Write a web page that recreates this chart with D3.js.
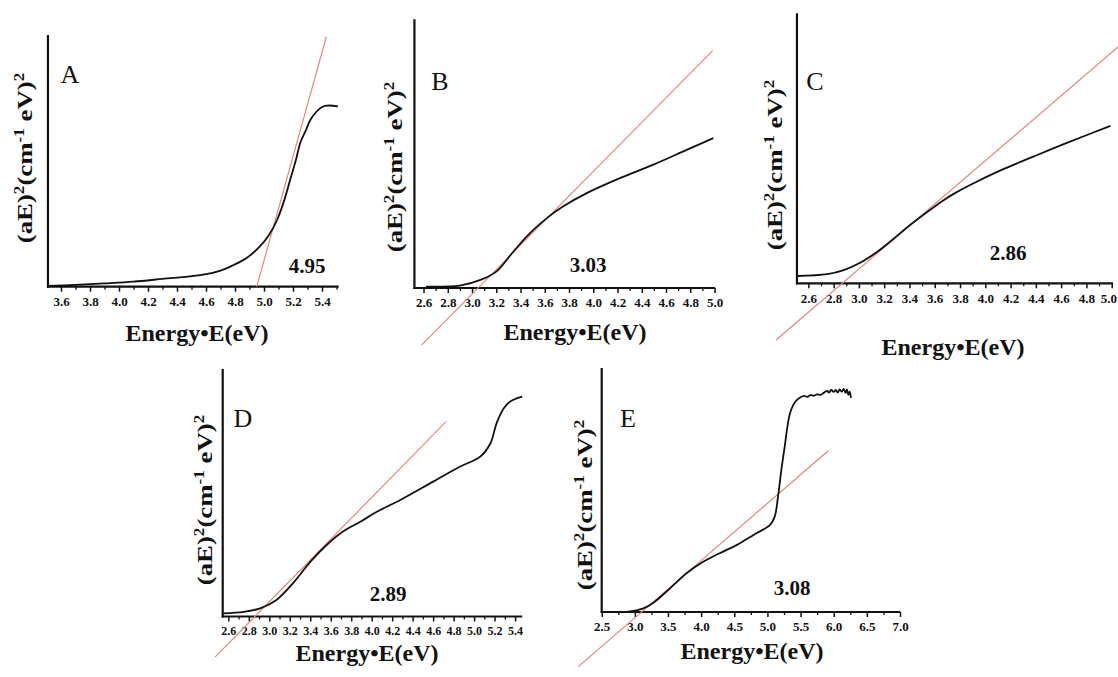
<!DOCTYPE html>
<html><head><meta charset="utf-8">
<script src="https://cdn.jsdelivr.net/npm/d3@7"></script>
<style>
body{margin:0;background:#fff}
svg{display:block}
text{font-family:"Times New Roman","Liberation Serif",serif;fill:#111}
</style></head><body>
<svg id="c" width="1118" height="677"></svg>
<script>
// ---------------- data ----------------
const panelLetters = ["A","B","C","D","E"];
const gapValues = ["4.95","3.03","2.86","2.89","3.08"];
const xTitle = "Energy\u2022E(eV)";

const energyA = [3.51,3.7,3.9,4.1,4.3,4.56,4.7,4.79,4.88,4.97,5.03,5.09,5.14,5.18,5.22,5.25,5.29,5.32,5.36,5.39,5.42,5.45,5.51];
const absA    = [0.3,0.7,1.3,2.0,3.1,4.6,6.4,8.6,11.4,15.9,20.1,26.5,34.4,42.4,50.3,57.1,62.3,66.3,69.4,71.0,71.8,72.0,71.6];
const fitAx = [4.95,5.43], fitAy = [0,99.3];
const ticksA = [3.6,3.8,4.0,4.2,4.4,4.6,4.8,5.0,5.2,5.4];

const energyB = [2.62,2.90,3.07,3.20,3.34,3.48,3.62,3.75,3.95,4.22,4.49,4.77,4.99];
const absB    = [0.5,0.9,3.0,6.1,13.5,20.5,26.1,30.3,35.4,40.9,45.8,51.4,55.8];
const fitBx = [2.585,4.985], fitBy = [-21.2,88.3];
const ticksB = [2.6,2.8,3.0,3.2,3.4,3.6,3.8,4.0,4.2,4.4,4.6,4.8,5.0];

const energyC = [2.51,2.75,2.88,3.01,3.14,3.27,3.40,3.54,3.67,3.76,3.88,4.12,4.38,4.64,4.99];
const absC    = [2.7,3.4,4.9,7.6,11.5,16.3,21.4,26.4,30.8,33.4,36.4,41.8,46.9,51.9,58.3];
const fitCx = [2.344,5.06], fitCy = [-21,87.9];
const ticksC = [2.6,2.8,3.0,3.2,3.4,3.6,3.8,4.0,4.2,4.4,4.6,4.8,5.0];

const energyD = [2.55,2.75,2.91,3.07,3.23,3.40,3.56,3.72,3.89,4.05,4.28,4.60,4.86,5.06,5.16,5.22,5.29,5.35,5.47];
const absD    = [1.3,1.9,3.3,6.7,13.4,22.1,28.9,34.3,38.3,42.3,47.1,54.5,60.5,64.6,70.0,78.1,84.1,86.8,88.8];
const fitDx = [2.47,4.726], fitDy = [-16.4,78.7];
const ticksD = [2.6,2.8,3.0,3.2,3.4,3.6,3.8,4.0,4.2,4.4,4.6,4.8,5.0,5.2,5.4];

const energyE = [2.90,3.13,3.28,3.53,3.78,4.03,4.28,4.54,4.79,5.04,5.11,5.16,5.21,5.26,5.34,5.42,5.5,5.55,5.6,5.65,5.7,5.75,5.8,5.85,5.9,5.93,5.96,6.0,6.03,6.06,6.09,6.12,6.15,6.18,6.2,6.22,6.24,6.26];
const absE    = [0.1,1.5,3.8,9.7,15.9,20.6,24.1,27.5,31.6,35.7,39.1,47.3,58.2,67.7,81.4,86.2,88.0,88.6,88.2,88.9,88.6,89.2,89.0,89.8,90.6,89.9,91.0,90.2,91.0,89.9,91.2,90.3,91.4,89.8,91.2,89.0,90.3,87.8];
const fitEx = [2.147,5.918], fitEy = [-22.4,66.1];
const ticksE = [2.5,3.0,3.5,4.0,4.5,5.0,5.5,6.0,6.5,7.0];

// ---------------- layout ----------------
const panels = [
  {E:energyA,Y:absA,fx:fitAx,fy:fitAy,ticks:ticksA,minor:0.1,xd:[3.5,5.5],xr:[46.5,336.5],yAt:3.51,xEnd:5.515,axisY:286.7,topY:35,
   letter:[70,83],val:[307,273],xt:[197,341],yt:[25,158],tfs:13},
  {E:energyB,Y:absB,fx:fitBx,fy:fitBy,ticks:ticksB,minor:0.1,xd:[2.5,5.0],xr:[411.4,714.5],yAt:2.525,xEnd:5.005,axisY:288,topY:19.3,
   letter:[440,90],val:[588,272],xt:[575,340],yt:[395,167],tfs:13},
  {E:energyC,Y:absC,fx:fitCx,fy:fitCy,ticks:ticksC,minor:0.1,xd:[2.5,5.0],xr:[795.7,1111.7],yAt:2.51,xEnd:5.01,axisY:283.3,topY:13.3,
   letter:[815,90],val:[1008,260],xt:[953,355],yt:[775,165],tfs:13},
  {E:energyD,Y:absD,fx:fitDx,fy:fitDy,ticks:ticksD,minor:0.1,xd:[2.5,5.5],xr:[218.1,525.3],yAt:2.545,xEnd:5.47,axisY:616.5,topY:369,
   letter:[243,427],val:[388,601],xt:[367,661],yt:[205,500],tfs:12},
  {E:energyE,Y:absE,fx:fitEx,fy:fitEy,ticks:ticksE,minor:0.25,xd:[2.5,7.0],xr:[601.7,900],yAt:2.5,xEnd:7.0,axisY:612,topY:368,
   letter:[628,427],val:[792,595],xt:[752,659],yt:[585,505],tfs:13}
];

const svg = d3.select("#c");
const W = 1118;

panels.forEach((p,i)=>{
  const g = svg.append("g");
  const x = d3.scaleLinear().domain(p.xd).range(p.xr);
  const y = d3.scaleLinear().domain([0,100]).range([p.axisY,p.topY]);

  // minor ticks
  const minorVals = d3.range(p.xd[0], p.xEnd+1e-6, p.minor).map(v=>+v.toFixed(3))
      .filter(v=>v>=p.yAt-1e-6 && !p.ticks.some(t=>Math.abs(t-v)<1e-6));
  g.append("g").attr("transform",`translate(0,${p.axisY})`)
    .call(d3.axisBottom(x).tickValues(minorVals).tickSize(3).tickFormat(""))
    .call(s=>s.select(".domain").remove())
    .call(s=>s.selectAll("line").attr("stroke","#111").attr("stroke-width",1.3));

  // major ticks
  g.append("g").attr("transform",`translate(0,${p.axisY})`)
    .call(d3.axisBottom(x).tickValues(p.ticks).tickSize(5).tickPadding(5).tickFormat(d3.format(".1f")))
    .call(s=>s.select(".domain").remove())
    .call(s=>s.selectAll("line").attr("stroke","#111").attr("stroke-width",1.5))
    .call(s=>s.selectAll("text").attr("font-family",null).attr("font-weight","bold")
              .attr("font-size",p.tfs).attr("fill","#222")
              .each(function(){
                 const b=this.getBBox(); const ctm=this.parentNode.getCTM();
                 const right = ctm.e + b.x + b.width;
                 if(right>W-1) d3.select(this).attr("dx",(W-1-right));
              }));

  // axis lines
  g.append("line").attr("x1",x(p.yAt)-1).attr("x2",x(p.xEnd)).attr("y1",p.axisY).attr("y2",p.axisY)
    .attr("stroke","#111").attr("stroke-width",2.2);
  g.append("line").attr("x1",x(p.yAt)).attr("x2",x(p.yAt)).attr("y1",p.topY).attr("y2",p.axisY+1)
    .attr("stroke","#111").attr("stroke-width",2.2);

  // fit line
  g.append("path").datum(p.fx.map((v,k)=>[v,p.fy[k]]))
    .attr("d",d3.line().x(d=>x(d[0])).y(d=>y(d[1])))
    .attr("fill","none").attr("stroke","#e0807c").attr("stroke-width",1.1);

  // curve
  g.append("path").datum(p.E.map((v,k)=>[v,p.Y[k]]))
    .attr("d",d3.line().x(d=>x(d[0])).y(d=>y(d[1])).curve(d3.curveCatmullRom.alpha(0.5)))
    .attr("fill","none").attr("stroke","#111").attr("stroke-width",1.8).attr("stroke-linejoin","round");

  // letter
  g.append("text").attr("x",p.letter[0]).attr("y",p.letter[1]).attr("text-anchor","middle")
    .attr("font-size",26).attr("fill","#333").text(panelLetters[i]);
  // gap value
  g.append("text").attr("x",p.val[0]).attr("y",p.val[1]).attr("text-anchor","middle")
    .attr("font-size",21).attr("font-weight","bold").text(gapValues[i]);
  // x title
  g.append("text").attr("x",p.xt[0]).attr("y",p.xt[1]).attr("text-anchor","middle")
    .attr("font-size",24).attr("font-weight","bold").text(xTitle);
  // y title
  const fs = 22;
  const yt = g.append("text").attr("transform",`translate(${p.yt[0]+fs*0.33},${p.yt[1]}) rotate(-90) scale(1.22,1)`)
    .attr("text-anchor","middle").attr("font-size",fs).attr("font-weight","bold");
  yt.append("tspan").text("(aE)");
  yt.append("tspan").attr("dy",-8).attr("font-size",14).text("2");
  yt.append("tspan").attr("dy",8).text("(cm");
  yt.append("tspan").attr("dy",-8).attr("font-size",14).text("-1");
  yt.append("tspan").attr("dy",8).text(" eV)");
  yt.append("tspan").attr("dy",-8).attr("font-size",14).text("2");
});
</script>
</body></html>
